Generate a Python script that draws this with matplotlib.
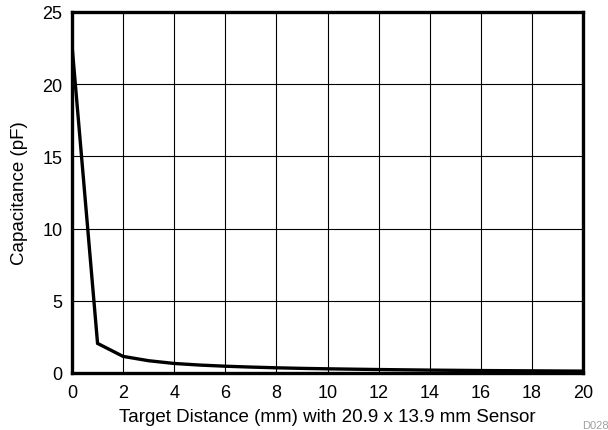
import matplotlib
matplotlib.use("Agg")
import matplotlib.pyplot as plt

plt.rcParams["font.family"] = ["Liberation Sans", "DejaVu Sans"]

distance_mm = [0, 1, 2, 3, 4, 5, 6, 7, 8, 9, 10, 12, 14, 16, 18, 20]
capacitance_pf = [22.7, 2.05, 1.15, 0.85, 0.66, 0.55, 0.47, 0.41, 0.36,
                  0.32, 0.29, 0.24, 0.20, 0.17, 0.15, 0.13]

fig = plt.figure(figsize=(6.08, 4.31), dpi=100)
ax = fig.add_axes([72 / 608, 1 - 374 / 431, 511 / 608, 361 / 431])

ax.plot(distance_mm, capacitance_pf, color="black", lw=2.4,
        solid_joinstyle="miter")

ax.set_xlim(0, 20)
ax.set_ylim(0, 25)
ax.set_xticks(range(0, 21, 2))
ax.set_yticks(range(0, 26, 5))
ax.grid(True, color="black", lw=0.8)
for sp in ax.spines.values():
    sp.set_linewidth(2.4)
ax.tick_params(length=0, labelsize=13)
ax.tick_params(axis="x", pad=8)
ax.tick_params(axis="y", pad=7)
ax.set_xlabel("Target Distance (mm) with 20.9 x 13.9 mm Sensor",
              fontsize=13.5, labelpad=5)
ax.set_ylabel("Capacitance (pF)", fontsize=13.5, labelpad=10)

fig.text(582 / 608, 2 / 431, "D028", fontsize=8, color="#a0a0a0",
         ha="left", va="baseline")

fig.savefig("out.png")
